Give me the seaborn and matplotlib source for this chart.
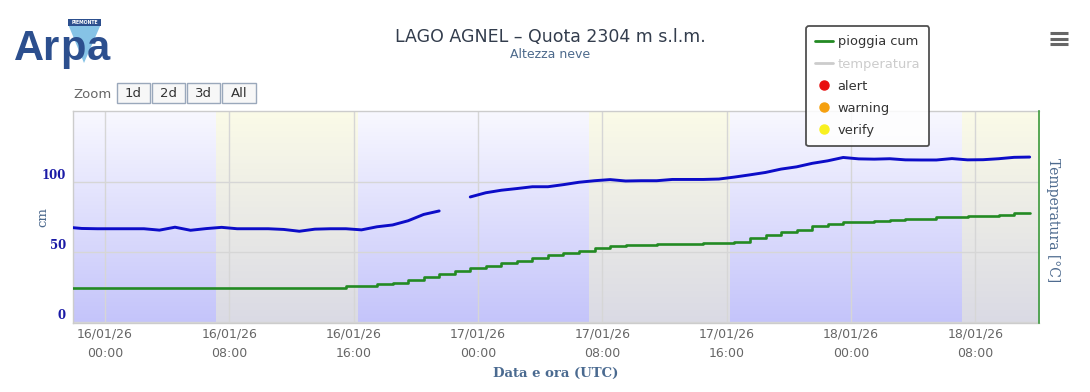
import numpy as np
import pandas as pd
import matplotlib
matplotlib.use("Agg")
import matplotlib.pyplot as plt
import matplotlib.dates as mdates
from matplotlib.lines import Line2D
from matplotlib.patches import Rectangle, Polygon
from matplotlib.transforms import ScaledTranslation
import seaborn as sns

# ---------------- data ----------------
series_start = "2026-01-15 21:30"
snow_cm = [67.5, 66.5, 66.3, 66.3, 66.3, 66.3, 65.3, 67.4, 65.2, 66.4,
           67.3, 66.3, 66.3, 66.3, 65.8, 64.5, 66.0, 66.3, 66.3, 65.5,
           67.7, 69.0, 72.0, 76.5, 79.0, np.nan, 89.0, 92.0, 93.8, 95.0,
           96.3, 96.3, 97.8, 99.5, 100.6, 101.4, 100.4, 100.6, 100.6, 101.5,
           101.5, 101.5, 101.8, 103.2, 104.8, 106.5, 108.9, 110.5, 113.0, 114.8,
           117.2, 116.2, 116.0, 116.3, 115.5, 115.4, 115.4, 116.4, 115.5, 115.6,
           116.3, 117.3, 117.5]
rain_cum = [24.1, 24.1, 24.1, 24.1, 24.1, 24.1, 24.1, 24.1, 24.1, 24.1,
            24.1, 24.1, 24.1, 24.1, 24.1, 24.1, 24.1, 24.1, 25.6, 25.6,
            26.6, 27.2, 29.5, 31.5, 34.0, 36.0, 38.5, 40.0, 41.5, 43.0,
            45.5, 47.5, 49.0, 50.5, 52.5, 54.3, 54.6, 54.6, 55.3, 55.3,
            55.6, 55.8, 56.0, 57.0, 59.5, 62.0, 63.8, 65.5, 68.0, 69.5,
            70.8, 71.4, 72.0, 72.5, 73.2, 73.6, 74.4, 74.8, 75.4, 75.6,
            76.1, 77.3, 77.3]
day_starts = ["2026-01-16 07:08", "2026-01-17 07:08", "2026-01-18 07:08"]
day_ends = ["2026-01-16 16:14", "2026-01-17 16:10", "2026-01-18 16:12"]
x_range = ["2026-01-15 21:55", "2026-01-18 12:06"]
tick_times = ["2026-01-16 00:00", "2026-01-16 08:00", "2026-01-16 16:00",
              "2026-01-17 00:00", "2026-01-17 08:00", "2026-01-17 16:00",
              "2026-01-18 00:00", "2026-01-18 08:00"]
tick_labels = ["16/01/26\n00:00", "16/01/26\n08:00", "16/01/26\n16:00",
               "17/01/26\n00:00", "17/01/26\n08:00", "17/01/26\n16:00",
               "18/01/26\n00:00", "18/01/26\n08:00"]
y_ticks = [0, 50, 100]
legend_labels = ["pioggia cum", "temperatura", "alert", "warning", "verify"]
zoom_buttons = ["1d", "2d", "3d", "All"]

times = pd.date_range(series_start, periods=len(snow_cm), freq="60min")
df = pd.DataFrame({"time": times, "snow": snow_cm, "rain": rain_cum})
df["seg"] = df["snow"].isna().cumsum()
snow_df = df.dropna(subset=["snow"])

# ---------------- style ----------------
sns.set_style("white")
plt.rcParams["font.family"] = ["DejaVu Sans"]

W, H = 1090, 392
fig = plt.figure(figsize=(W / 100, H / 100), dpi=100)
L, R, T, B = 72.7, 1039.0, 110.7, 322.7
ax = fig.add_axes([L / W, 1 - B / H, (R - L) / W, (B - T) / H])

def fx(px):
    return px / W

def fy(py):
    return 1 - py / H

BLUE = "#0c0cc8"
GREEN = "#238a23"

sns.lineplot(data=df, x="time", y="rain", drawstyle="steps-post", color=GREEN,
             lw=1.9, errorbar=None, ax=ax, zorder=3)
sns.lineplot(data=snow_df, x="time", y="snow", units="seg", estimator=None,
             color=BLUE, lw=2.1, ax=ax, zorder=4)

ymin, ymax = -0.8, 150.6
xl0 = mdates.date2num(pd.Timestamp(x_range[0]))
xl1 = mdates.date2num(pd.Timestamp(x_range[1]))
ds = [mdates.date2num(pd.Timestamp(t)) for t in day_starts]
de = [mdates.date2num(pd.Timestamp(t)) for t in day_ends]

grad = np.linspace(0, 1, 256)[:, None, None]

def band(xa, xb, top, bot):
    top = np.array(top, float)[None, None, :] / 255
    bot = np.array(bot, float)[None, None, :] / 255
    img = top * (1 - grad) + bot * grad
    img = np.repeat(img, 2, axis=1)
    ax.imshow(img, extent=[xa, xb, ymin, ymax], aspect="auto", zorder=0,
              interpolation="bilinear", origin="upper")

night_top, night_bot = (248, 248, 255), (196, 196, 250)
day_top, day_bot = (251, 251, 232), (218, 218, 228)
night_edges = [(xl0, ds[0]), (de[0], ds[1]), (de[1], ds[2])]
day_edges = [(ds[0], de[0]), (ds[1], de[1]), (ds[2], xl1)]
for a, b in night_edges:
    band(a, b, night_top, night_bot)
for a, b in day_edges:
    band(a, b, day_top, day_bot)

ax.set_xlim(xl0, xl1)
ax.set_ylim(ymin, ymax)
ax.set_axisbelow(True)

ax.set_xticks([mdates.date2num(pd.Timestamp(t)) for t in tick_times])
ax.set_xticklabels(tick_labels, linespacing=1.6, fontsize=9, color="#666666")
ax.set_yticks(y_ticks)
ax.set_yticklabels([str(v) for v in y_ticks], fontsize=8.5, fontweight="bold",
                   color="#1a1aa6", family="DejaVu Serif")
ax.tick_params(axis="x", length=5, width=1, color="#cccccc", pad=-1.5)
ax.tick_params(axis="y", length=0, pad=5)
off = ScaledTranslation(0, 7.5 / 100, fig.dpi_scale_trans)
for lab in ax.get_yticklabels():
    lab.set_transform(lab.get_transform() + off)

ax.grid(True, color="#d6d6d6", lw=1)
for s in ["left", "top", "bottom"]:
    ax.spines[s].set_color("#cccccc")
    ax.spines[s].set_linewidth(1)
ax.spines["right"].set_visible(False)

ax.set_ylabel("cm", family="DejaVu Serif", fontsize=9.5, color="#4d6a8e")
ax.yaxis.set_label_coords((43 - L) / (R - L), 0.5)
ax.yaxis.label.set_va("center")
ax.set_xlabel("Data e ora (UTC)", family="DejaVu Serif", fontweight="bold",
              fontsize=9.5, color="#4a6a90")
ax.xaxis.set_label_coords(0.5, (B - 373) / (B - T))
ax.xaxis.label.set_va("center")

ax2 = ax.twinx()
ax2.set_yticks([])
for s in ["left", "top", "bottom"]:
    ax2.spines[s].set_visible(False)
ax2.spines["right"].set_color("#3c9a3c")
ax2.spines["right"].set_linewidth(1.2)
ax2.set_ylabel("Temperatura [°C]", rotation=270, family="DejaVu Serif",
               fontsize=10, color="#4d6a8e")
ax2.yaxis.set_label_coords((1053 - L) / (R - L), (B - 220) / (B - T))
ax2.yaxis.label.set_va("center")
ax2.yaxis.label.set_ha("center")

# ---------------- titles ----------------
fig.text(fx(550), fy(37), "LAGO AGNEL – Quota 2304 m s.l.m.", ha="center",
         va="center", fontsize=12.5, color="#333d4d")
fig.text(fx(550), fy(55), "Altezza neve", ha="center", va="center",
         fontsize=9, color="#4d6a8c")

# ---------------- legend ----------------
handles = [
    Line2D([], [], color=GREEN, lw=2),
    Line2D([], [], color="#cccccc", lw=2),
    Line2D([], [], marker="o", ls="none", color="#e81010", ms=6.5),
    Line2D([], [], marker="o", ls="none", color="#f5a00f", ms=6.5),
    Line2D([], [], marker="o", ls="none", color="#f8f020", ms=6.5),
]
leg = fig.legend(handles, legend_labels, loc="upper left",
                 bbox_to_anchor=(fx(806), fy(26)), frameon=True, fancybox=True,
                 edgecolor="#333333", facecolor="white", framealpha=0.85,
                 fontsize=9.4, handlelength=1.35, handletextpad=0.35,
                 labelspacing=0.7, borderpad=0.72, borderaxespad=0)
leg.get_frame().set_linewidth(1.3)
for i, t in enumerate(leg.get_texts()):
    t.set_color("#cccccc" if i == 1 else "#333333")
leg.set_zorder(10)

# ---------------- logo ----------------
fig.patches.append(Polygon([(fx(68), fy(24)), (fx(101), fy(24)), (fx(84), fy(63))],
                           closed=True, transform=fig.transFigure,
                           facecolor="#86c3e6", edgecolor="none", zorder=1))
fig.patches.append(Rectangle((fx(68), fy(26)), fx(101) - fx(68), fy(19) - fy(26),
                             transform=fig.transFigure, facecolor="#2c4f8e",
                             edgecolor="none", zorder=2))
fig.text(fx(84.5), fy(22.6), "PIEMONTE", ha="center", va="center", fontsize=3.3,
         color="white", fontweight="bold", zorder=3)
logo_kw = dict(fontsize=30, fontweight="bold", color="#2c4f8e",
               family="Liberation Sans", va="baseline", zorder=3)
fig.text(fx(14), fy(60), "Ar", **logo_kw)
fig.text(fx(60), fy(60), "p", **logo_kw)
fig.text(fx(87), fy(60), "a", **logo_kw)

# ---------------- zoom buttons ----------------
fig.text(fx(73), fy(94), "Zoom", ha="left", va="center", fontsize=9.5,
         color="#666666")
bx = [117, 152, 187, 222]
bw = [33, 33, 33, 34]
for lab, x0, w in zip(zoom_buttons, bx, bw):
    fig.patches.append(Rectangle((fx(x0), fy(103)), fx(w), fy(83) - fy(103),
                                 transform=fig.transFigure, facecolor="#f7f7f7",
                                 edgecolor="#9aa8bb", lw=1, zorder=1))
    fig.text(fx(x0 + w / 2), fy(93.5), lab, ha="center", va="center",
             fontsize=9.5, color="#333333", zorder=2)

# ---------------- menu icon ----------------
for yy in [33, 38.5, 44]:
    fig.lines.append(Line2D([fx(1050), fx(1068)], [fy(yy), fy(yy)],
                            transform=fig.transFigure, color="#666666",
                            lw=2.2, solid_capstyle="butt"))

fig.savefig("out.png", dpi=100)
